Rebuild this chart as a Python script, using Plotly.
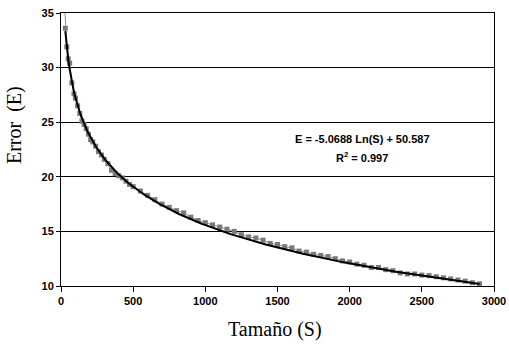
import numpy as np
import plotly.graph_objects as go

# Data
size_s = [20, 30, 40, 50, 60, 75, 90, 100, 115, 130, 145, 160, 175, 190, 205, 220, 240, 260, 280, 300,
          325, 350, 375, 400, 425, 450, 475, 500, 550, 600, 650, 700, 750, 800, 850, 900, 950, 1000,
          1050, 1100, 1150, 1200, 1250, 1300, 1350, 1400, 1450, 1500, 1550, 1600, 1650, 1700, 1750,
          1800, 1850, 1900, 1950, 2000, 2050, 2100, 2150, 2200, 2250, 2300, 2350, 2400, 2450, 2500,
          2550, 2600, 2650, 2700, 2750, 2800, 2850, 2900]
error_e = [37.0, 33.6, 31.9, 30.8, 30.4, 28.6, 27.6, 27.2, 26.5, 25.8, 25.1, 24.8, 24.4, 23.9, 23.4,
           23.2, 22.8, 22.3, 22.0, 21.6, 21.2, 20.6, 20.3, 20.1, 19.9, 19.6, 19.3, 19.1, 18.7, 18.3,
           17.9, 17.5, 17.2, 16.9, 16.7, 16.3, 16.0, 15.8, 15.6, 15.4, 15.2, 15.0, 14.7, 14.5, 14.4,
           14.2, 13.9, 13.8, 13.6, 13.5, 13.2, 13.1, 12.9, 12.8, 12.7, 12.5, 12.3, 12.2, 12.0, 11.9,
           11.7, 11.7, 11.5, 11.4, 11.2, 11.1, 11.1, 11.0, 10.95, 10.85, 10.75, 10.65, 10.55, 10.45,
           10.3, 10.2]

# Trendline coefficients shown on the chart
fit_a = -5.0688
fit_b = 50.587
fit_r2 = 0.997

x_ticks = [0, 500, 1000, 1500, 2000, 2500, 3000]
y_ticks = [10, 15, 20, 25, 30, 35]

fit_x = np.linspace(30, 2900, 400)
fit_y = fit_a * np.log(fit_x) + fit_b

fig = go.Figure()
fig.add_trace(go.Scatter(
    x=size_s, y=error_e, mode="lines+markers",
    line=dict(color="#8c8c8c", width=1),
    marker=dict(symbol="square", size=5, color="#7a7a7a"),
    showlegend=False))
fig.add_trace(go.Scatter(
    x=fit_x, y=fit_y, mode="lines",
    line=dict(color="black", width=2),
    showlegend=False))

tickfont = dict(family="Liberation Sans, Arial", size=11, color="black", weight="bold")
fig.update_layout(
    width=509, height=347,
    margin=dict(l=61, r=15, t=13, b=61, autoexpand=False),
    paper_bgcolor="white", plot_bgcolor="white",
    xaxis=dict(range=[0, 3000], tickvals=x_ticks, ticks="outside", ticklen=5, tickcolor="black",
               showline=True, linecolor="black", linewidth=1, mirror=True, showgrid=False,
               zeroline=False, tickfont=tickfont, ticklabeloverflow="allow", automargin=False),
    yaxis=dict(range=[10, 35], tickvals=y_ticks, ticks="outside", ticklen=4, tickcolor="black",
               showline=True, linecolor="black", linewidth=1, mirror=True, showgrid=True,
               gridcolor="black", gridwidth=1, zeroline=False, tickfont=tickfont,
               ticklabeloverflow="allow", automargin=False),
    annotations=[
        dict(text="Tamaño (S)", xref="paper", yref="paper", x=0.494, y=-0.16,
             xanchor="center", yanchor="middle", showarrow=False,
             font=dict(family="Liberation Serif, Times New Roman", size=20, color="black")),
        dict(text="Error  (E)", xref="paper", yref="paper", x=-0.106, y=0.59,
             xanchor="center", yanchor="middle", showarrow=False, textangle=-90,
             font=dict(family="Liberation Serif, Times New Roman", size=20, color="black")),
        dict(text=f"E = {fit_a} Ln(S) + {fit_b}", x=2086, y=23.5, xref="x", yref="y",
             showarrow=False, xanchor="center", yanchor="middle",
             font=dict(family="Liberation Sans, Arial", size=11, color="black", weight="bold")),
        dict(text=f"R<sup>2</sup> = {fit_r2}", x=2086, y=21.85, xref="x", yref="y",
             showarrow=False, xanchor="center", yanchor="middle",
             font=dict(family="Liberation Sans, Arial", size=11, color="black", weight="bold")),
    ],
)

fig.write_html("out.html", config={"displayModeBar": False},
               post_script="document.body.style.margin='0';document.body.style.overflow='hidden';")
